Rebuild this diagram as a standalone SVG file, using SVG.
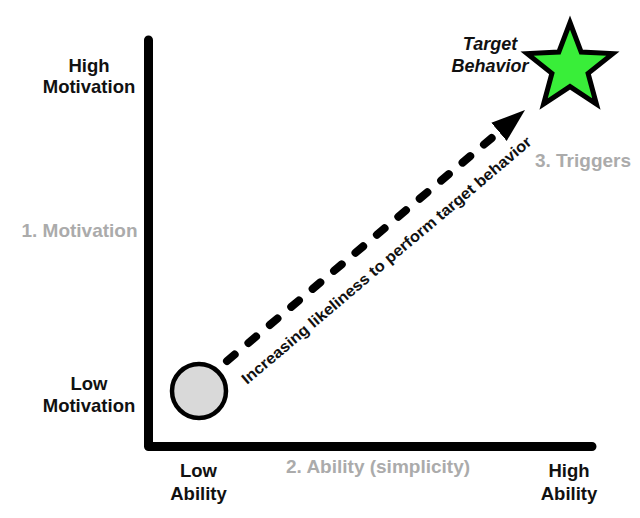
<svg xmlns="http://www.w3.org/2000/svg" width="640" height="518" viewBox="0 0 640 518">
<style>
  text { font-family: "Liberation Sans", Arial, sans-serif; font-weight: bold; }
  .lbl { font-size: 18.5px; fill: #111; text-anchor: middle; }
  .tb { font-size: 18px; fill: #111; text-anchor: middle; font-style: italic; }
  .dim { font-size: 19px; fill: #ababab; text-anchor: middle; }
  .axis { stroke: #000; stroke-width: 9; fill: none; stroke-linecap: round; stroke-linejoin: round; }
</style>
<defs>
  <marker id="ah" viewBox="0 0 10 10" refX="2" refY="5" markerWidth="4.25" markerHeight="4.25" markerUnits="strokeWidth" orient="auto">
    <path d="M0,1.5 L10,5 L0,8.5 Z" fill="#000"/>
  </marker>
</defs>
<rect width="640" height="518" fill="#fff"/>
<g id="axes">
  <path class="axis" d="M148.5,40 V446.5 H592"/>
</g>
<g id="connectors">
  <line x1="227" y1="361" x2="504.2" y2="127.5" stroke="#000" stroke-width="8" stroke-linecap="round" stroke-dasharray="10 18" marker-end="url(#ah)"/>
  <text transform="translate(247,385) rotate(-40.2)" font-size="15.5" fill="#111" textLength="374" lengthAdjust="spacingAndGlyphs">Increasing likeliness to perform target behavior</text>
</g>
<g id="start">
  <circle cx="199" cy="391" r="27" fill="#d9d9d9" stroke="#000" stroke-width="4.5"/>
</g>
<g id="target">
  <polygon points="570,22.5 581.2,52.1 612.8,53.6 588.1,73.4 596.4,104 570,86.6 543.6,104 551.9,73.4 527.2,53.6 558.8,52.1" fill="#39ee39" stroke="#000" stroke-width="5" stroke-linejoin="miter"/>
  <text x="490" y="50" class="tb">Target</text>
  <text x="490" y="72" class="tb">Behavior</text>
</g>
<g id="high-motivation">
  <text x="89" y="72" class="lbl">High</text>
  <text x="89" y="93" class="lbl">Motivation</text>
</g>
<g id="motivation">
  <text x="79.5" y="237" class="dim">1. Motivation</text>
</g>
<g id="low-motivation">
  <text x="89" y="390" class="lbl">Low</text>
  <text x="89" y="412" class="lbl">Motivation</text>
</g>
<g id="low-ability">
  <text x="198.5" y="477" class="lbl">Low</text>
  <text x="198.5" y="500" class="lbl">Ability</text>
</g>
<g id="ability">
  <text x="378" y="473" class="dim">2. Ability (simplicity)</text>
</g>
<g id="high-ability">
  <text x="569" y="477" class="lbl">High</text>
  <text x="569" y="500" class="lbl">Ability</text>
</g>
<g id="triggers">
  <text x="583" y="167" class="dim">3. Triggers</text>
</g>
</svg>
